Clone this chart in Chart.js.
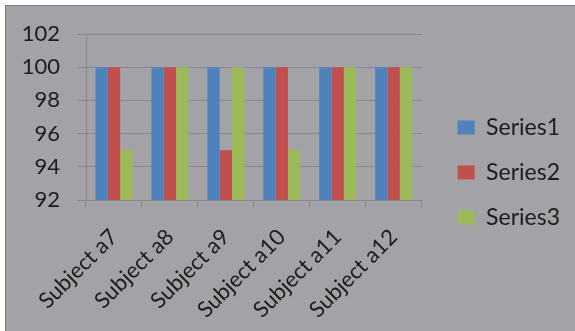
<!DOCTYPE html>
<html>
<head>
<meta charset="utf-8">
<script src="https://cdn.jsdelivr.net/npm/chart.js@4/dist/chart.umd.min.js"></script>
<style>
  html, body { margin: 0; padding: 0; background: #ffffff; }
  #frame {
    position: absolute; left: 5px; top: 5px; width: 570px; height: 326px;
    background: #a3a2a7; border-top: 1px solid #7b7b7e; border-left: 1px solid #7b7b7e;
    box-sizing: border-box;
  }
  #wrap { position: absolute; left: 0; top: 0; width: 575px; height: 331px; }
</style>
</head>
<body>
<div id="frame"></div>
<div id="wrap"><canvas id="c" width="575" height="331"></canvas></div>
<script>
// Chart data
const categories = ['Subject a7', 'Subject a8', 'Subject a9', 'Subject a10', 'Subject a11', 'Subject a12'];
const seriesNames = ['Series1', 'Series2', 'Series3'];
const series1 = [100, 100, 100, 100, 100, 100];
const series2 = [100, 100, 95, 100, 100, 100];
const series3 = [95, 100, 100, 95, 100, 100];
const yTicks = [92, 94, 96, 98, 100, 102];

const seriesColors = ['#4f81bd', '#c0504d', '#9bbb59'];
const gridColor = '#88878b';
const textColor = '#1c1c1c';
const fontFamily = 'Lato, "Open Sans", sans-serif';

// Nudge the legend block to sit in the right-hand margin
const legendOffset = { x: 14, y: -10 };
const legendShift = {
  id: 'legendShift',
  afterLayout(chart) {
    const lg = chart.legend;
    if (!lg) return;
    lg.left += legendOffset.x; lg.right += legendOffset.x;
    lg.top += legendOffset.y; lg.bottom += legendOffset.y;
  }
};

new Chart(document.getElementById('c'), {
  type: 'bar',
  data: {
    labels: categories,
    datasets: [series1, series2, series3].map((d, i) => ({
      label: seriesNames[i],
      data: d,
      backgroundColor: seriesColors[i],
      borderWidth: 0,
      categoryPercentage: 0.66,
      barPercentage: 1.0
    }))
  },
  options: {
    responsive: false,
    animation: false,
    devicePixelRatio: 1,
    layout: { padding: { top: 34, left: 6, right: 19, bottom: 0 } },
    plugins: {
      tooltip: { enabled: false },
      legend: {
        position: 'right',
        align: 'center',
        labels: {
          boxWidth: 17,
          boxHeight: 14,
          padding: 22,
          color: textColor,
          font: { family: fontFamily, size: 23 }
        }
      }
    },
    scales: {
      x: {
        grid: {
          display: true, drawOnChartArea: false, drawTicks: true,
          tickLength: 8, color: gridColor, offset: true
        },
        border: { display: true, color: gridColor },
        ticks: {
          color: textColor,
          font: { family: fontFamily, size: 22 },
          minRotation: 45, maxRotation: 45, autoSkip: false, padding: 16
        },
        afterFit(s) { s.height = 131; }
      },
      y: {
        min: yTicks[0],
        max: yTicks[yTicks.length - 1],
        afterBuildTicks(s) { s.ticks = yTicks.map(v => ({ value: v })); },
        grid: { color: gridColor, tickLength: 9, drawTicks: true },
        border: { display: true, color: gridColor },
        ticks: {
          color: textColor,
          font: { family: fontFamily, size: 22 },
          padding: 17
        },
        afterFit(s) { s.width = 80; }
      }
    }
  },
  plugins: [legendShift]
});
</script>
</body>
</html>
